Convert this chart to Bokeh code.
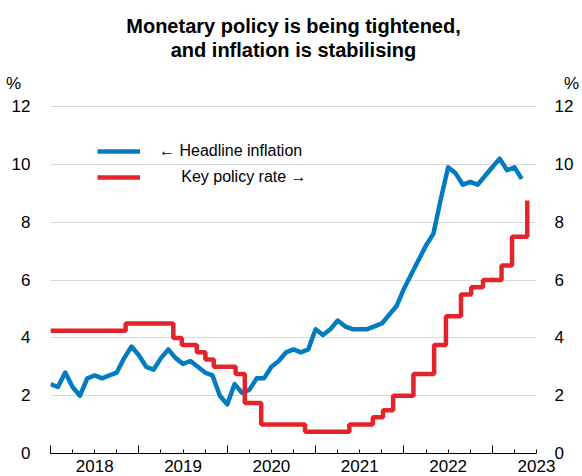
import calendar

from bokeh.plotting import figure
from bokeh.models import (FixedTicker, LinearAxis, Range1d, Title,
                          Legend, LegendItem)
from bokeh.embed import file_html
from bokeh.resources import INLINE

# ---------------- data ----------------
title_lines = ["Monetary policy is being tightened,", "and inflation is stabilising"]
series_names = ["\u2190 Headline inflation", "Key policy rate \u2192"]
unit_label = "%"

years = [2018, 2019, 2020, 2021, 2022, 2023]
y_ticks = [0, 2, 4, 6, 8, 10, 12]

# Headline inflation, monthly from Jan 2018 to May 2023 (%)
inflation_start = "2018-01"
inflation = [
    2.4, 2.3, 2.8, 2.3, 2.0, 2.6, 2.7, 2.6, 2.7, 2.8, 3.3, 3.7,   # 2018
    3.4, 3.0, 2.9, 3.3, 3.6, 3.3, 3.1, 3.2, 3.0, 2.8, 2.7, 2.0,   # 2019
    1.7, 2.4, 2.1, 2.2, 2.6, 2.6, 3.0, 3.2, 3.5, 3.6, 3.5, 3.6,   # 2020
    4.3, 4.1, 4.3, 4.6, 4.4, 4.3, 4.3, 4.3, 4.4, 4.5, 4.8, 5.1,   # 2021
    5.7, 6.2, 6.7, 7.2, 7.6, 8.8, 9.9, 9.7, 9.3, 9.4, 9.3, 9.6,   # 2022
    9.9, 10.2, 9.8, 9.9, 9.5,                                     # 2023
]

# Key policy rate: effective dates of changes and new rate (%)
policy_dates = [
    "2018-01-01", "2018-11-07", "2019-05-22", "2019-06-26", "2019-08-28",
    "2019-10-02", "2019-11-06", "2020-02-05", "2020-03-13", "2020-05-20",
    "2020-11-18", "2021-05-19", "2021-08-25", "2021-10-06", "2021-11-17",
    "2022-02-09", "2022-05-04", "2022-06-22", "2022-08-24", "2022-10-05",
    "2022-11-23", "2023-02-08", "2023-03-22", "2023-05-24",
]
policy_rate = [
    4.25, 4.50, 4.00, 3.75, 3.50,
    3.25, 3.00, 2.75, 1.75, 1.00,
    0.75, 1.00, 1.25, 1.50, 2.00,
    2.75, 3.75, 4.75, 5.50, 5.75,
    6.00, 6.50, 7.50, 8.75,
]

BLUE = "#037BC1"
RED = "#E3242B"
FONT = "Liberation Sans"
NBSP = "\u00a0"

# ---------------- helpers: month index since Jan of first year ----------------
base_year = years[0]


def month_index(d):
    y, m, dd = (int(v) for v in d.split("-"))
    days = calendar.monthrange(y, m)[1]
    return (y - base_year) * 12 + (m - 1) + (dd - 1) / days


sy, sm = (int(v) for v in inflation_start.split("-"))
infl_x = [(sy - base_year) * 12 + (sm - 1) + i for i in range(len(inflation))]
rate_x = [month_index(d) for d in policy_dates]

x_end = (years[-1] - base_year) * 12 + 6          # mid 2023 = axis end
year_starts = [(y - base_year) * 12 for y in years]
quarter_ticks = list(range(0, x_end + 1, 3))
mid_years = [(y - base_year) * 12 + 6 for y in years]

# the "%" unit sits on its own row just above the top tick
unit_pos = y_ticks[-1] + 0.8
y_top = unit_pos

# ---------------- figure ----------------
W, H = 582, 476
p = figure(width=W, height=H, output_backend="svg", toolbar_location=None,
           title=None, x_range=Range1d(0, x_end), y_range=Range1d(y_ticks[0], y_top),
           min_border_left=50, min_border_right=37, min_border_top=83,
           min_border_bottom=23)
p.outline_line_color = None
p.background_fill_color = "white"
p.border_fill_color = "white"

# x axis with ticks only (years long, quarters short, pointing up)
xa = p.below[0]
xa.ticker = FixedTicker(ticks=year_starts, minor_ticks=quarter_ticks)
xa.major_tick_in = 8
xa.major_tick_out = 0
xa.minor_tick_in = 4
xa.minor_tick_out = 0
xa.major_label_text_color = None
xa.major_label_text_font_size = "1px"
xa.major_label_standoff = 0
xa.axis_line_color = "black"
xa.major_tick_line_color = "black"
xa.minor_tick_line_color = "black"

# year labels centred in each year
xl = LinearAxis(ticker=FixedTicker(ticks=mid_years),
                major_label_overrides={m: str(y) for m, y in zip(mid_years, years)},
                major_tick_in=0, major_tick_out=0, minor_tick_in=0, minor_tick_out=0,
                axis_line_color=None, major_label_standoff=6,
                major_label_text_font=FONT, major_label_text_font_size="17px",
                major_label_text_color="black")
p.add_layout(xl, "below")

# invisible spacer between frame and title (one hidden tick gives it its height)
spacer = LinearAxis(ticker=FixedTicker(ticks=[year_starts[0]], minor_ticks=[]),
                    major_tick_out=23, major_tick_in=0, minor_tick_out=0, minor_tick_in=0,
                    axis_line_color=None, major_tick_line_color=None,
                    minor_tick_line_color=None, major_label_text_color=None,
                    major_label_text_font_size="1px", major_label_standoff=0)
p.add_layout(spacer, "above")
p.add_layout(Title(text=title_lines[1], align="center", text_font=FONT,
                   text_font_size="20px", text_font_style="bold", text_color="black",
                   standoff=0, offset=0), "above")
p.add_layout(Title(text=title_lines[0], align="center", text_font=FONT,
                   text_font_size="20px", text_font_style="bold", text_color="black",
                   standoff=0, offset=0), "above")

# y axes (left and right), with the unit "%" as the top label
ya = p.left[0]
ya.ticker = FixedTicker(ticks=y_ticks + [unit_pos])
ya.major_label_overrides = {unit_pos: unit_label + NBSP * 2}
ya.axis_line_color = None
ya.major_tick_line_color = None
ya.minor_tick_line_color = None
ya.major_label_text_font = FONT
ya.major_label_text_font_size = "17px"
ya.major_label_text_color = "black"
ya.major_label_standoff = 14

yr = LinearAxis(ticker=FixedTicker(ticks=y_ticks + [unit_pos]),
                major_label_overrides={unit_pos: NBSP * 2 + unit_label},
                axis_line_color=None,
                major_tick_line_color=None, minor_tick_line_color=None,
                major_label_text_font=FONT, major_label_text_font_size="17px",
                major_label_text_color="black", major_label_standoff=12)
p.add_layout(yr, "right")

p.xgrid.visible = False
p.ygrid.ticker = FixedTicker(ticks=[t for t in y_ticks if t > 0])
p.ygrid.grid_line_color = "#D9D9D9"
p.ygrid.grid_line_width = 1

# series
r_inf = p.line(infl_x, inflation, line_color=BLUE, line_width=4.5, line_join="round")
r_rate = p.step(rate_x, policy_rate, mode="after", line_color=RED, line_width=4.5)

legend = Legend(items=[LegendItem(label=series_names[0], renderers=[r_inf]),
                       LegendItem(label=NBSP * 5 + series_names[1], renderers=[r_rate])],
                location=(47, 266), orientation="vertical", glyph_width=43,
                glyph_height=20, label_height=20, label_standoff=19, spacing=6,
                padding=0, margin=0, border_line_color=None, background_fill_alpha=0,
                label_text_font=FONT, label_text_font_size="16px",
                label_text_color="black")
p.add_layout(legend)

open("out.html", "w").write(file_html(p, INLINE))
